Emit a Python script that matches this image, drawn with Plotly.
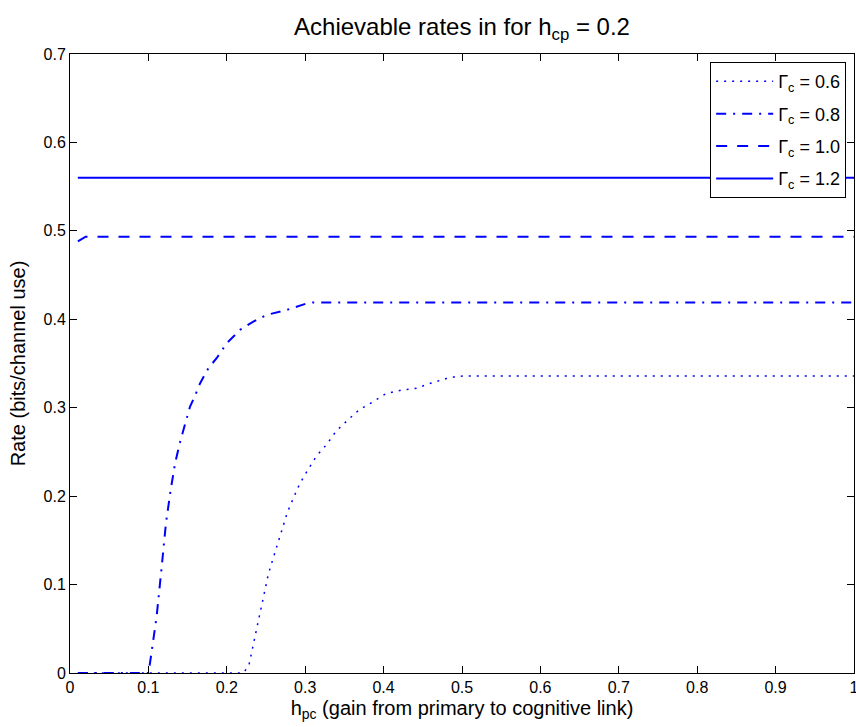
import plotly.graph_objects as go

# Data
h_pc_06 = [0.01, 0.221, 0.228, 0.234, 0.240, 0.247, 0.253, 0.259, 0.265, 0.271, 0.277,
           0.285, 0.293, 0.303, 0.314, 0.327, 0.339, 0.353, 0.368, 0.385, 0.403, 0.423,
           0.442, 0.461, 0.480, 0.491, 0.502, 1.0]
rate_06 = [0, 0, 0.008, 0.034, 0.060, 0.087, 0.112, 0.130, 0.147, 0.164, 0.181,
           0.198, 0.214, 0.229, 0.245, 0.258, 0.273, 0.285, 0.297, 0.306, 0.316, 0.320,
           0.322, 0.328, 0.333, 0.335, 0.336, 0.336]

h_pc_08 = [0.01, 0.100, 0.102, 0.1105, 0.117, 0.1224, 0.1284, 0.134, 0.140, 0.1467, 0.153,
           0.159, 0.166, 0.1764, 0.187, 0.200, 0.2168, 0.2338, 0.2509, 0.276, 0.302, 0.31, 1.0]
rate_08 = [0, 0, 0.011, 0.064, 0.1205, 0.1695, 0.207, 0.237, 0.260, 0.2825, 0.301,
           0.3126, 0.3277, 0.3446, 0.356, 0.373, 0.388, 0.3973, 0.405, 0.4105, 0.418, 0.419, 0.419]

h_pc_10 = [0.01, 0.02, 1.0]
rate_10 = [0.488, 0.4934, 0.4934]

h_pc_12 = [0.01, 1.0]
rate_12 = [0.56, 0.56]

series_names = ["Γ<sub>c</sub> = 0.6", "Γ<sub>c</sub> = 0.8", "Γ<sub>c</sub> = 1.0", "Γ<sub>c</sub> = 1.2"]
x_ticks = [0, 0.1, 0.2, 0.3, 0.4, 0.5, 0.6, 0.7, 0.8, 0.9, 1]
x_tick_labels = ["0", "0.1", "0.2", "0.3", "0.4", "0.5", "0.6", "0.7", "0.8", "0.9", "1"]
y_ticks = [0, 0.1, 0.2, 0.3, 0.4, 0.5, 0.6, 0.7]
y_tick_labels = ["0", "0.1", "0.2", "0.3", "0.4", "0.5", "0.6", "0.7"]

FONT = "Liberation Sans, Arial, Helvetica, sans-serif"
BLUE = "#0000ff"

W, H = 856, 727

fig = go.Figure()
fig.add_trace(go.Scatter(x=h_pc_06, y=rate_06, mode="lines", name=series_names[0],
                         legendgroup="g1",
                         line=dict(color=BLUE, width=1.5, dash="2px,6px")))
fig.add_trace(go.Scatter(x=h_pc_08, y=rate_08, mode="lines", name=series_names[1],
                         legendgroup="g2",
                         line=dict(color=BLUE, width=2, dash="10px,7px,2px,7px")))
fig.add_trace(go.Scatter(x=h_pc_10, y=rate_10, mode="lines", name=series_names[2],
                         legendgroup="g3",
                         line=dict(color=BLUE, width=2, dash="11px,10px")))
fig.add_trace(go.Scatter(x=h_pc_12, y=rate_12, mode="lines", name=series_names[3],
                         legendgroup="g4",
                         line=dict(color=BLUE, width=2)))

axis_common = dict(showline=True, linecolor="black", linewidth=1, mirror="ticks",
                   ticks="inside", ticklen=7, tickcolor="black", showgrid=False,
                   zeroline=False, automargin=False,
                   tickfont=dict(family=FONT, size=16, color="black"))

fig.update_layout(
    width=W, height=H,
    margin=dict(l=70, r=2, t=54, b=54),
    paper_bgcolor="white", plot_bgcolor="white",
    font=dict(family=FONT, color="black"),
    title=dict(text="Achievable rates in for h<sub>cp</sub> = 0.2",
               x=0.5, xref="paper", y=1 - 27 / H, yref="container", yanchor="middle",
               font=dict(family=FONT, size=24, color="black")),
    xaxis=dict(range=[0, 1], tickvals=x_ticks, ticktext=x_tick_labels,
               ticklabeloverflow="allow",
               title=dict(text="h<sub>pc</sub> (gain from primary to cognitive link)",
                          font=dict(family=FONT, size=20), standoff=5),
               **axis_common),
    yaxis=dict(range=[0, 0.7], tickvals=y_ticks, ticktext=y_tick_labels,
               title=dict(text="Rate (bits/channel use)",
                          font=dict(family=FONT, size=20), standoff=12),
               **axis_common),
    legend=dict(x=0.99, xanchor="right", y=0.987, yanchor="top",
                bgcolor="white", bordercolor="black", borderwidth=1,
                font=dict(family=FONT, size=18, color="black"),
                itemwidth=57, tracegroupgap=6),
    showlegend=True,
)

fig.write_html(
    "out.html",
    config={"responsive": False, "displayModeBar": False},
    post_script="document.body.style.margin='0';"
                "document.documentElement.style.overflow='hidden';"
                "document.body.style.overflow='hidden';",
)
